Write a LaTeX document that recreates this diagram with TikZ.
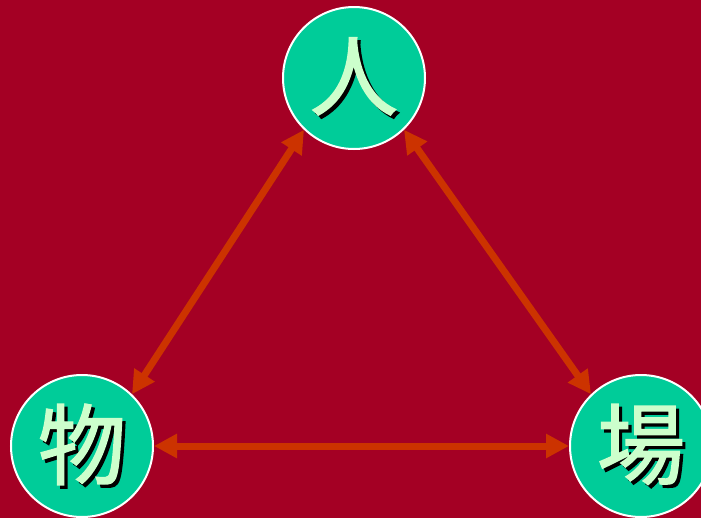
\documentclass[tikz,border=0pt]{standalone}
\usepackage{fontspec}
\newfontfamily\cjk[FakeBold=1.6]{Noto Sans CJK JP}
\usepackage{tikz}
\usetikzlibrary{arrows.meta}
\definecolor{bgred}{HTML}{A40024}
\definecolor{disc}{HTML}{00CC99}
\definecolor{glyph}{HTML}{CCFFCC}
\definecolor{link}{HTML}{CC3300}
\newcommand{\shadowed}[1]{\raisebox{-3pt}{\rlap{\kern2.4pt\raisebox{-2.4pt}{\color{black}#1}}#1}}

\begin{document}
\begin{tikzpicture}[x=0.75pt, y=-0.75pt,
    ball/.style={circle, draw=white, line width=1.5pt, fill=disc,
        minimum size=106.5pt, inner sep=0pt, text=glyph,
        font=\cjk\fontsize{66pt}{66pt}\selectfont},
    arr/.style={link, line width=5.25pt,
        {Triangle[length=17.25pt, width=17.25pt]}-{Triangle[length=17.25pt, width=17.25pt]}}]
    \useasboundingbox (0,0) rectangle (701,518);
    \fill[bgred] (0,0) rectangle (701,518);

    % Three circles
    \node[ball] (hito) at (354,78) {\shadowed{人}};
    \node[ball] (mono) at (82,446) {\shadowed{物}};
    \node[ball] (ba) at (641,446) {\shadowed{場}};

    % Double arrows
    \draw[arr] (hito.226) -- (mono.46);
    \draw[arr] (hito.314) -- (ba.134);
    \draw[arr] (mono.east) -- (ba.west);
\end{tikzpicture}
\end{document}
